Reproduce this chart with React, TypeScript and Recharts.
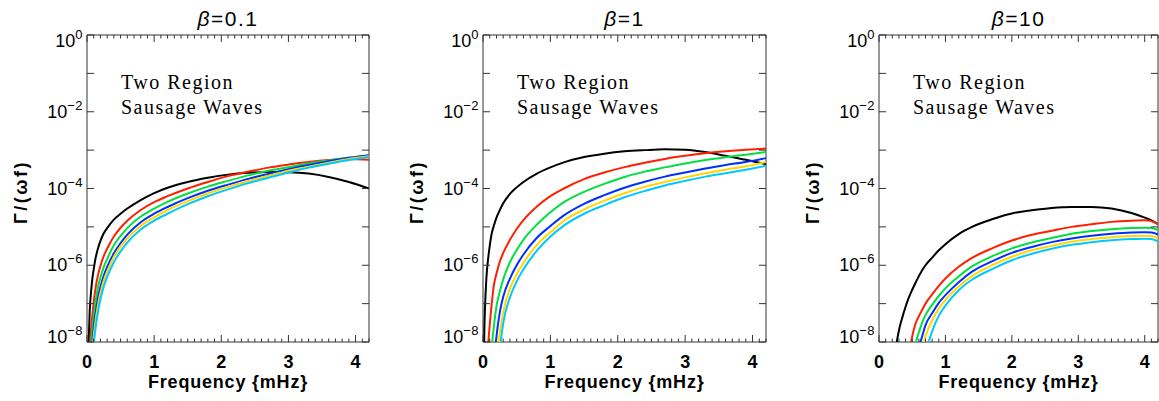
import { LineChart, Line, XAxis, YAxis, ReferenceArea } from 'recharts';

const SANS = '"Liberation Sans", Arial, Helvetica, sans-serif';
const SERIF = '"Liberation Serif", "Times New Roman", serif';
const FRAME = '#333333';

const seriesKeys = ['black', 'red', 'green', 'blue', 'yellow', 'cyan'];
const seriesColors = ['#000000', '#ff2000', '#00e040', '#0030ff', '#ffd700', '#00c8ff'];

const betaLabels = ['0.1', '1', '10'];

const xTickValues = [
  0, 0.1, 0.2, 0.3, 0.4, 0.5, 0.6, 0.7, 0.8, 0.9, 1, 1.1, 1.2, 1.3, 1.4, 1.5, 1.6, 1.7, 1.8, 1.9, 2,
  2.1, 2.2, 2.3, 2.4, 2.5, 2.6, 2.7, 2.8, 2.9, 3, 3.1, 3.2, 3.3, 3.4, 3.5, 3.6, 3.7, 3.8, 3.9, 4, 4.1, 4.2,
];
const yTickValues = [1e-8, 1e-7, 1e-6, 1e-5, 1e-4, 1e-3, 1e-2, 1e-1, 1];

// beta = 0.1
const freq1 = [0.02, 0.04, 0.06, 0.08, 0.1, 0.13, 0.16, 0.2, 0.25, 0.3, 0.4, 0.5, 0.6, 0.8, 1.0, 1.2, 1.5, 1.8, 2.1, 2.4, 2.7, 3.0, 3.3, 3.6, 3.9, 4.2];
const black1 = [5.0e-9, 6.3e-8, 2.0e-7, 4.5e-7, 7.9e-7, 1.6e-6, 2.6e-6, 4.3e-6, 6.8e-6, 9.3e-6, 1.55e-5, 2.2e-5, 3.0e-5, 5.0e-5, 7.6e-5, 1.05e-4, 1.48e-4, 1.9e-4, 2.3e-4, 2.57e-4, 2.7e-4, 2.66e-4, 2.45e-4, 2.0e-4, 1.48e-4, 1.0e-4];
const red1 = [3.2e-10, 5.0e-9, 2.2e-8, 5.0e-8, 1.1e-7, 2.7e-7, 5.2e-7, 9.6e-7, 1.75e-6, 2.7e-6, 5.6e-6, 9.5e-6, 1.45e-5, 2.75e-5, 4.4e-5, 6.3e-5, 1.0e-4, 1.48e-4, 2.1e-4, 2.75e-4, 3.5e-4, 4.2e-4, 4.9e-4, 5.5e-4, 5.9e-4, 5.6e-4];
const green1 = [null, 1.3e-9, 7.9e-9, 2.2e-8, 4.8e-8, 1.2e-7, 2.45e-7, 4.8e-7, 9.1e-7, 1.45e-6, 3.3e-6, 5.8e-6, 9.3e-6, 1.86e-5, 3.0e-5, 4.5e-5, 7.4e-5, 1.12e-4, 1.58e-4, 2.2e-4, 2.9e-4, 3.6e-4, 4.5e-4, 5.4e-4, 6.3e-4, 7.2e-4];
const blue1 = [null, 4.0e-10, 3.2e-9, 1.0e-8, 2.4e-8, 6.0e-8, 1.3e-7, 2.7e-7, 5.4e-7, 9.0e-7, 2.05e-6, 3.8e-6, 6.3e-6, 1.32e-5, 2.2e-5, 3.3e-5, 5.6e-5, 8.7e-5, 1.26e-4, 1.78e-4, 2.4e-4, 3.2e-4, 4.1e-4, 5.1e-4, 6.3e-4, 7.4e-4];
const yellow1 = [null, 1.6e-10, 1.6e-9, 6.0e-9, 1.45e-8, 3.8e-8, 8.5e-8, 1.9e-7, 4.0e-7, 6.8e-7, 1.65e-6, 3.0e-6, 5.0e-6, 1.07e-5, 1.78e-5, 2.75e-5, 4.7e-5, 7.4e-5, 1.1e-4, 1.55e-4, 2.14e-4, 2.9e-4, 3.7e-4, 4.7e-4, 5.9e-4, 6.9e-4];
const cyan1 = [null, null, 6.3e-10, 3.0e-9, 8.5e-9, 2.45e-8, 5.6e-8, 1.3e-7, 2.8e-7, 5.0e-7, 1.2e-6, 2.3e-6, 3.9e-6, 8.5e-6, 1.45e-5, 2.2e-5, 3.9e-5, 6.3e-5, 9.5e-5, 1.38e-4, 1.9e-4, 2.6e-4, 3.5e-4, 4.4e-4, 5.5e-4, 6.6e-4];

// beta = 1
const freq2 = [0.01, 0.02, 0.03, 0.05, 0.08, 0.1, 0.13, 0.16, 0.2, 0.25, 0.3, 0.4, 0.5, 0.6, 0.8, 1.0, 1.2, 1.5, 1.8, 2.1, 2.4, 2.7, 3.0, 3.3, 3.6, 3.9, 4.2];
const black2 = [1.0e-9, 2.0e-8, 7.9e-8, 4.5e-7, 1.7e-6, 3.2e-6, 6.8e-6, 1.05e-5, 1.74e-5, 2.75e-5, 4.1e-5, 7.2e-5, 1.07e-4, 1.48e-4, 2.45e-4, 3.55e-4, 4.8e-4, 6.6e-4, 8.1e-4, 9.3e-4, 1.0e-3, 1.05e-3, 1.02e-3, 8.9e-4, 7.1e-4, 5.6e-4, 4.3e-4];
const red2 = [null, null, null, 1.0e-9, 1.0e-8, 2.8e-8, 1.0e-7, 2.9e-7, 6.0e-7, 1.25e-6, 2.1e-6, 4.6e-6, 8.8e-6, 1.5e-5, 3.4e-5, 6.3e-5, 1.0e-4, 1.75e-4, 2.6e-4, 3.6e-4, 4.7e-4, 5.9e-4, 7.1e-4, 8.3e-4, 9.3e-4, 1.02e-3, 1.1e-3];
const green2 = [null, null, null, null, null, 1.0e-9, 7.0e-9, 2.4e-8, 8.5e-8, 2.1e-7, 4.3e-7, 1.2e-6, 2.5e-6, 4.6e-6, 1.15e-5, 2.4e-5, 4.4e-5, 8.2e-5, 1.32e-4, 2.0e-4, 2.75e-4, 3.55e-4, 4.5e-4, 5.5e-4, 6.5e-4, 7.6e-4, 8.9e-4];
const blue2 = [null, null, null, null, null, null, null, 2.5e-9, 1.4e-8, 6.0e-8, 1.5e-7, 4.5e-7, 1.0e-6, 1.9e-6, 5.2e-6, 1.05e-5, 2.0e-5, 4.0e-5, 6.7e-5, 1.05e-4, 1.5e-4, 2.04e-4, 2.6e-4, 3.3e-4, 4.1e-4, 4.9e-4, 6.2e-4];
const yellow2 = [null, null, null, null, null, null, null, null, 3.5e-9, 1.8e-8, 6.0e-8, 2.5e-7, 5.8e-7, 1.15e-6, 3.4e-6, 7.2e-6, 1.45e-5, 2.85e-5, 4.8e-5, 7.5e-5, 1.1e-4, 1.48e-4, 1.95e-4, 2.5e-4, 3.1e-4, 3.8e-4, 4.9e-4];
const cyan2 = [null, null, null, null, null, null, null, null, 1.2e-9, 6.5e-9, 3.1e-8, 1.45e-7, 3.8e-7, 7.8e-7, 2.4e-6, 5.6e-6, 1.08e-5, 2.2e-5, 3.7e-5, 5.9e-5, 8.6e-5, 1.2e-4, 1.58e-4, 2.04e-4, 2.5e-4, 3.1e-4, 3.9e-4];

// beta = 10
const freq3 = [0.2, 0.25, 0.3, 0.35, 0.4, 0.45, 0.5, 0.55, 0.6, 0.65, 0.7, 0.8, 0.9, 1.0, 1.2, 1.4, 1.7, 2.0, 2.3, 2.6, 2.9, 3.2, 3.5, 3.8, 4.0, 4.1, 4.2];
const black3 = [1.0e-9, 6.3e-9, 2.0e-8, 4.3e-8, 8.3e-8, 1.45e-7, 2.3e-7, 3.5e-7, 5.2e-7, 7.4e-7, 1.0e-6, 1.58e-6, 2.45e-6, 3.55e-6, 6.5e-6, 1.0e-5, 1.58e-5, 2.24e-5, 2.7e-5, 3.1e-5, 3.3e-5, 3.3e-5, 3.0e-5, 2.3e-5, 1.74e-5, 1.48e-5, 1.17e-5];
const red3 = [null, null, null, null, null, 4.0e-9, 1.4e-8, 3.0e-8, 4.7e-8, 6.9e-8, 1.0e-7, 1.74e-7, 2.9e-7, 4.5e-7, 9.1e-7, 1.55e-6, 2.75e-6, 4.4e-6, 6.2e-6, 7.9e-6, 1.0e-5, 1.17e-5, 1.35e-5, 1.45e-5, 1.48e-5, 1.41e-5, 1.17e-5];
const green3 = [null, null, null, null, null, null, 2.5e-9, 8.9e-9, 1.78e-8, 3.2e-8, 5.0e-8, 9.3e-8, 1.58e-7, 2.5e-7, 5.1e-7, 9.3e-7, 1.7e-6, 2.75e-6, 3.9e-6, 5.1e-6, 6.6e-6, 7.8e-6, 8.7e-6, 9.3e-6, 9.5e-6, 9.3e-6, 8.3e-6];
const blue3 = [null, null, null, null, null, null, null, 2.0e-9, 7.1e-9, 1.4e-8, 2.75e-8, 5.6e-8, 1.05e-7, 1.66e-7, 3.6e-7, 6.8e-7, 1.26e-6, 2.1e-6, 3.0e-6, 4.0e-6, 5.0e-6, 5.9e-6, 6.6e-6, 7.1e-6, 7.2e-6, 7.1e-6, 6.3e-6];
const yellow3 = [null, null, null, null, null, null, null, null, 1.6e-9, 6.3e-9, 1.4e-8, 3.7e-8, 7.4e-8, 1.26e-7, 2.8e-7, 5.2e-7, 1.0e-6, 1.66e-6, 2.45e-6, 3.2e-6, 4.1e-6, 4.8e-6, 5.4e-6, 5.75e-6, 5.9e-6, 5.75e-6, 5.0e-6];
const cyan3 = [null, null, null, null, null, null, null, null, null, 1.26e-9, 4.5e-9, 1.9e-8, 4.8e-8, 8.9e-8, 2.24e-7, 4.2e-7, 7.9e-7, 1.35e-6, 2.0e-6, 2.7e-6, 3.4e-6, 4.0e-6, 4.5e-6, 4.8e-6, 4.9e-6, 4.8e-6, 4.2e-6];

const CHART_H = 401;
const PLOT_TOP = 35;
const PLOT_H = 307;
const AXIS_W = 87;
const RIGHT_PAD = 30;

type PanelProps = {
  beta: string;
  freq: number[];
  values: (number | null)[][];
  left: number;
  pw: number;
};

function Panel({ beta, freq, values, left, pw }: PanelProps) {
  const rows = freq.map((f, i) => {
    const row: Record<string, number | null> = { f };
    seriesKeys.forEach((k, j) => {
      row[k] = values[j][i];
    });
    return row;
  });
  const chartW = AXIS_W + pw + RIGHT_PAD;
  const cx = AXIS_W + pw / 2;

  // ticks point inward, on both opposite sides, like the IDL frame
  const xTick = (p: any) => {
    const { x, y, payload } = p;
    const v = payload.value;
    const major = Math.abs(v - Math.round(v)) < 1e-6;
    const len = major ? 7 : 3.5;
    return (
      <g>
        <line x1={x} x2={x} y1={y} y2={y - len} stroke={FRAME} />
        <line x1={x} x2={x} y1={y - PLOT_H} y2={y - PLOT_H + len} stroke={FRAME} />
        {major && (
          <text x={x} y={y + 26} textAnchor="middle" fontFamily={SANS} fontSize={18} fontWeight="bold" fill="#000">
            {Math.round(v)}
          </text>
        )}
      </g>
    );
  };

  const yTick = (p: any) => {
    const { x, y, payload } = p;
    const e = Math.round(Math.log10(payload.value));
    const shift = e === 0 ? 6 : e === -8 ? -5 : 0;
    return (
      <g>
        <line x1={x} x2={x + 7} y1={y} y2={y} stroke={FRAME} />
        <line x1={x + pw} x2={x + pw - 7} y1={y} y2={y} stroke={FRAME} />
        {e % 2 === 0 && (
          <text x={x - 4} y={y + shift + 6} textAnchor="end" fontFamily={SANS} fontSize={18} fill="#000">
            10
            <tspan fontSize={13} dy={-8} letterSpacing={0.5}>
              {e === 0 ? '0' : '\u2212' + -e}
            </tspan>
          </text>
        )}
      </g>
    );
  };

  return (
    <div style={{ position: 'absolute', left, top: 0, width: chartW, height: CHART_H }}>
      <LineChart
        width={chartW}
        height={CHART_H}
        data={rows}
        margin={{ top: PLOT_TOP, right: RIGHT_PAD, bottom: 0, left: 0 }}
      >
        <XAxis
          dataKey="f"
          type="number"
          domain={[0, 4.2]}
          ticks={xTickValues}
          interval={0}
          allowDataOverflow
          tickSize={0}
          tickMargin={0}
          axisLine={false}
          tickLine={false}
          height={CHART_H - PLOT_TOP - PLOT_H}
          tick={xTick}
        />
        <YAxis
          type="number"
          scale="log"
          domain={[1e-8, 1]}
          ticks={yTickValues}
          interval={0}
          allowDataOverflow
          width={AXIS_W}
          tickSize={0}
          tickMargin={0}
          axisLine={false}
          tickLine={false}
          tick={yTick}
        />
        <ReferenceArea x1={0} x2={4.2} y1={1e-8} y2={1} fill="none" stroke={FRAME} strokeWidth={1} ifOverflow="visible" />
        {seriesKeys.map((k, j) => (
          <Line
            key={k}
            dataKey={k}
            type="monotone"
            stroke={seriesColors[j]}
            strokeWidth={2}
            dot={false}
            activeDot={false}
            isAnimationActive={false}
          />
        ))}
      </LineChart>

      <div
        style={{
          position: 'absolute',
          left: cx - 60,
          top: 6,
          width: 120,
          textAlign: 'center',
          fontFamily: SANS,
          fontSize: 21,
          lineHeight: '26px',
          letterSpacing: 1.5,
        }}
      >
        <i>β</i>={beta}
      </div>

      <div
        style={{
          position: 'absolute',
          left: AXIS_W + 34,
          top: 70,
          fontFamily: SERIF,
          fontSize: 20,
          lineHeight: '25px',
          letterSpacing: 1.5,
          whiteSpace: 'pre',
        }}
      >
        {'Two Region\nSausage Waves'}
      </div>

      <div
        style={{
          position: 'absolute',
          left: cx - 100,
          top: 371,
          width: 200,
          textAlign: 'center',
          fontFamily: SANS,
          fontSize: 18,
          fontWeight: 'bold',
          lineHeight: '22px',
          letterSpacing: 0.8,
        }}
      >
        {'Frequency {mHz}'}
      </div>

      <div
        style={{
          position: 'absolute',
          left: AXIS_W - 66 - 50,
          top: 192 - 11,
          width: 100,
          height: 22,
          textAlign: 'center',
          fontFamily: SANS,
          fontSize: 18,
          fontWeight: 'bold',
          lineHeight: '22px',
          letterSpacing: 2.5,
          transform: 'rotate(-90deg)',
        }}
      >
        Γ/(ωf)
      </div>
    </div>
  );
}

export default function App() {
  return (
    <div
      style={{
        position: 'absolute',
        left: 0,
        top: 0,
        width: 1159,
        height: 401,
        overflow: 'hidden',
        background: '#ffffff',
      }}
    >
      <Panel beta={betaLabels[0]} freq={freq1} values={[black1, red1, green1, blue1, yellow1, cyan1]} left={0} pw={282} />
      <Panel beta={betaLabels[1]} freq={freq2} values={[black2, red2, green2, blue2, yellow2, cyan2]} left={396} pw={283} />
      <Panel beta={betaLabels[2]} freq={freq3} values={[black3, red3, green3, blue3, yellow3, cyan3]} left={792} pw={279} />
    </div>
  );
}
